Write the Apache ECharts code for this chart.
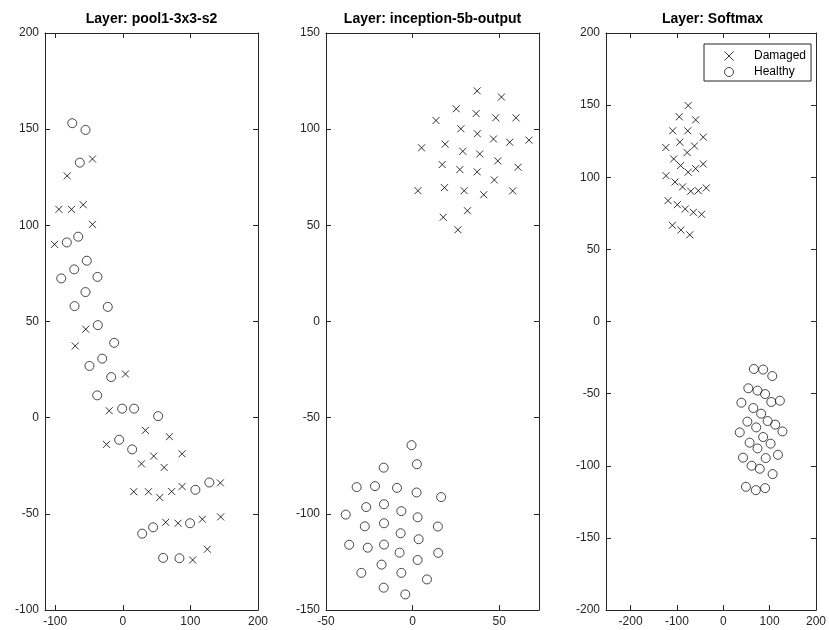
<!DOCTYPE html>
<html>
<head>
<meta charset="utf-8">
<script src="https://cdn.jsdelivr.net/npm/echarts@6/dist/echarts.min.js"></script>
<style>html,body{margin:0;padding:0;background:#fff}#c{width:829px;height:630px}</style>
</head>
<body>
<div id="c"></div>
<script>
// ---------- data ----------
const titles = ['Layer: pool1-3x3-s2', 'Layer: inception-5b-output', 'Layer: Softmax'];
const legendNames = ['Damaged', 'Healthy'];

const pool1Damaged = [[-44.8,134.5],[-82.1,125.7],[-94.5,108.3],[-75.8,108.3],[-58.5,110.7],[-44.8,100.5],[-100.9,90.1],[-54.7,46],[-70.3,37.3],[4,22.7],[-20.1,3.6],[33.5,-6.6],[69,-9.9],[-24.1,-13.9],[45.8,-20],[87.7,-18.8],[27.6,-24],[61.2,-25.9],[16.2,-38.5],[38,-38.5],[54.7,-41.5],[72.4,-38.4],[87.7,-35.8],[144.3,-33.9],[63.5,-54.4],[81.8,-54.9],[117.7,-52.8],[144.8,-51.6],[125.1,-68.4],[103.4,-74]];
const pool1Healthy = [[-74.7,153.1],[-55.1,149.6],[-63.5,132.6],[-82.7,91.1],[-65.9,94.1],[-53.2,81.6],[-91,72.4],[-71.8,77.1],[-37.4,73.2],[-55.1,65.3],[-71.3,58],[-22.2,57.6],[-36.9,48.1],[-12.7,38.9],[-30.4,30.7],[-49.2,26.9],[-17.1,21.1],[-37.8,11.6],[-0.9,4.7],[16.8,4.7],[52.3,0.8],[-5.3,-11.5],[13.9,-16.5],[128,-33.7],[107.4,-37.5],[99.5,-54.9],[44.9,-57],[28.7,-60.3],[59.7,-72.9],[83.8,-73.1]];

const inceptionDamaged = [[37.3,119.9],[51.3,116.7],[25.2,110.6],[13.5,104.5],[36.7,108.1],[48,105.9],[59.7,105.9],[27.9,100.2],[37.4,97.6],[46.7,94.9],[56.1,93.2],[67.2,94.3],[5.2,90.3],[18.8,92.2],[29,88.5],[38.8,87.1],[49.2,83.5],[17.1,81.6],[27.3,79],[37.3,77.8],[60.9,80.2],[47.2,73.6],[3.1,68],[18.4,69.6],[29.8,68],[41.1,65.9],[57.8,67.9],[31.7,57.6],[17.7,54.2],[26.2,47.7]];
const inceptionHealthy = [[-0.6,-64.3],[2.5,-74.2],[-16.7,-76],[-32.3,-86.1],[-21.7,-85.6],[-9,-86.5],[2.3,-88.9],[16.5,-91.3],[-26.8,-96.5],[-16.5,-95],[-6.5,-98.6],[-38.6,-100.4],[2.9,-101.8],[-27.6,-106.5],[-16.5,-104.9],[14.6,-106.6],[-6.9,-110.1],[3.5,-113.2],[-36.6,-116.1],[-25.9,-117.6],[-16.5,-116],[-7.5,-120.2],[14.8,-120.3],[2.9,-124],[-17.9,-126.4],[-29.6,-130.7],[-6.5,-130.7],[8.3,-134.1],[-16.7,-138.4],[-4.2,-141.9]];

const softmaxDamaged = [[-75.7,149.7],[-94.9,141.9],[-59.6,139.8],[-109.1,132.2],[-76.6,132.2],[-43.2,127.8],[-93.6,124.3],[-124,120.6],[-62.3,121.7],[-77.9,117.1],[-107,112.7],[-92.1,108.1],[-59.6,106],[-43.2,109.2],[-75.7,103.5],[-123.4,101.1],[-104.3,96.7],[-87.9,93.3],[-70.2,90.3],[-53.8,90.7],[-36.8,92.6],[-119.1,83.8],[-99.1,81],[-82.1,78],[-64.5,75.7],[-46.8,74.3],[-109.8,66.7],[-91.5,63.4],[-72.3,60.1]];
const softmaxHealthy = [[66,-32.9],[86,-33.3],[105.7,-37.8],[54,-46.3],[73.8,-47.9],[90.2,-50.3],[39.1,-56.3],[103.6,-55.8],[122.1,-54.9],[64.7,-60],[81.7,-63.9],[51.9,-69.4],[95.7,-69],[112.1,-71.5],[71,-73.4],[127.7,-76.2],[35.5,-76.9],[86,-80.1],[56.8,-84],[102.1,-84.7],[73.8,-88],[117.9,-92.4],[42.6,-94.4],[91.5,-94.7],[61.1,-100],[78.7,-102.1],[106.4,-105.8],[48.9,-114.6],[70.2,-116.9],[90.2,-115.5]];

const pool1XTicks = [-100, 0, 100, 200];
const pool1YTicks = [-100, -50, 0, 50, 100, 150, 200];
const inceptionXTicks = [-50, 0, 50];
const inceptionYTicks = [-150, -100, -50, 0, 50, 100, 150];
const softmaxXTicks = [-200, -100, 0, 100, 200];
const softmaxYTicks = [-200, -150, -100, -50, 0, 50, 100, 150, 200];

const pool1XRange = [-115, 200], pool1YRange = [-100, 200];
const inceptionXRange = [-50, 73], inceptionYRange = [-150, 150];
const softmaxXRange = [-253, 200], softmaxYRange = [-200, 200];

// ---------- chart ----------
const FONT = '"Liberation Sans", Arial, Helvetica, sans-serif';
const AX = '#262626';
const panels = [
  {grid: {left: 45, top: 33, width: 213, height: 577}, xr: pool1XRange, yr: pool1YRange, xt: pool1XTicks, yt: pool1YTicks, d: pool1Damaged, h: pool1Healthy},
  {grid: {left: 326, top: 33, width: 213, height: 577}, xr: inceptionXRange, yr: inceptionYRange, xt: inceptionXTicks, yt: inceptionYTicks, d: inceptionDamaged, h: inceptionHealthy},
  {grid: {left: 606, top: 33, width: 213, height: 577}, xr: softmaxXRange, yr: softmaxYRange, xt: softmaxXTicks, yt: softmaxYTicks, d: softmaxDamaged, h: softmaxHealthy}
];

function axis(gi, range, ticks, pos, labels) {
  return {
    type: 'value', gridIndex: gi, min: range[0], max: range[1], position: pos,
    axisLine: {show: true, onZero: false, lineStyle: {color: AX, width: 1}},
    axisTick: {show: true, inside: true, length: 5, customValues: ticks, lineStyle: {color: AX, width: 1}},
    axisLabel: {show: labels, customValues: ticks, color: AX, fontSize: 12, fontFamily: FONT, margin: 6},
    splitLine: {show: false}
  };
}

const crossPath = 'path://M0,0L10,10M0,10L10,0';
const grids = [], xAxes = [], yAxes = [], series = [], titleArr = [];
panels.forEach((p, i) => {
  grids.push(p.grid);
  xAxes.push(axis(i, p.xr, p.xt, 'bottom', true));
  xAxes.push(axis(i, p.xr, p.xt, 'top', false));
  yAxes.push(axis(i, p.yr, p.yt, 'left', true));
  yAxes.push(axis(i, p.yr, p.yt, 'right', false));
  titleArr.push({
    text: titles[i], left: p.grid.left + p.grid.width / 2, top: 12, textAlign: 'center', padding: 0,
    textStyle: {fontSize: 14, fontWeight: 'bold', color: '#000', fontFamily: FONT}
  });
  series.push({
    name: legendNames[0], type: 'scatter', xAxisIndex: 2 * i, yAxisIndex: 2 * i, data: p.d,
    symbol: crossPath, symbolSize: 7,
    itemStyle: {color: 'transparent', borderColor: '#000', borderWidth: 1},
    emphasis: {disabled: true}
  });
  series.push({
    name: legendNames[1], type: 'scatter', xAxisIndex: 2 * i, yAxisIndex: 2 * i, data: p.h,
    symbol: 'circle', symbolSize: 9,
    itemStyle: {color: 'transparent', borderColor: '#1a1a1a', borderWidth: 1},
    emphasis: {disabled: true}
  });
});

const chart = echarts.init(document.getElementById('c'), null, {renderer: 'canvas'});
chart.setOption({
  animation: false,
  backgroundColor: '#fff',
  title: titleArr,
  grid: grids,
  xAxis: xAxes,
  yAxis: yAxes,
  legend: {
    data: legendNames, orient: 'vertical', left: 704, top: 44,
    padding: [6, 5, 3, 20], itemWidth: 40, itemHeight: 9, itemGap: 4,
    borderColor: AX, borderWidth: 1, backgroundColor: '#fff',
    itemStyle: {borderWidth: 1, color: 'transparent'},
    textStyle: {fontSize: 12, color: '#000', fontFamily: FONT},
    selectedMode: false
  },
  series: series
});
</script>
</body>
</html>
